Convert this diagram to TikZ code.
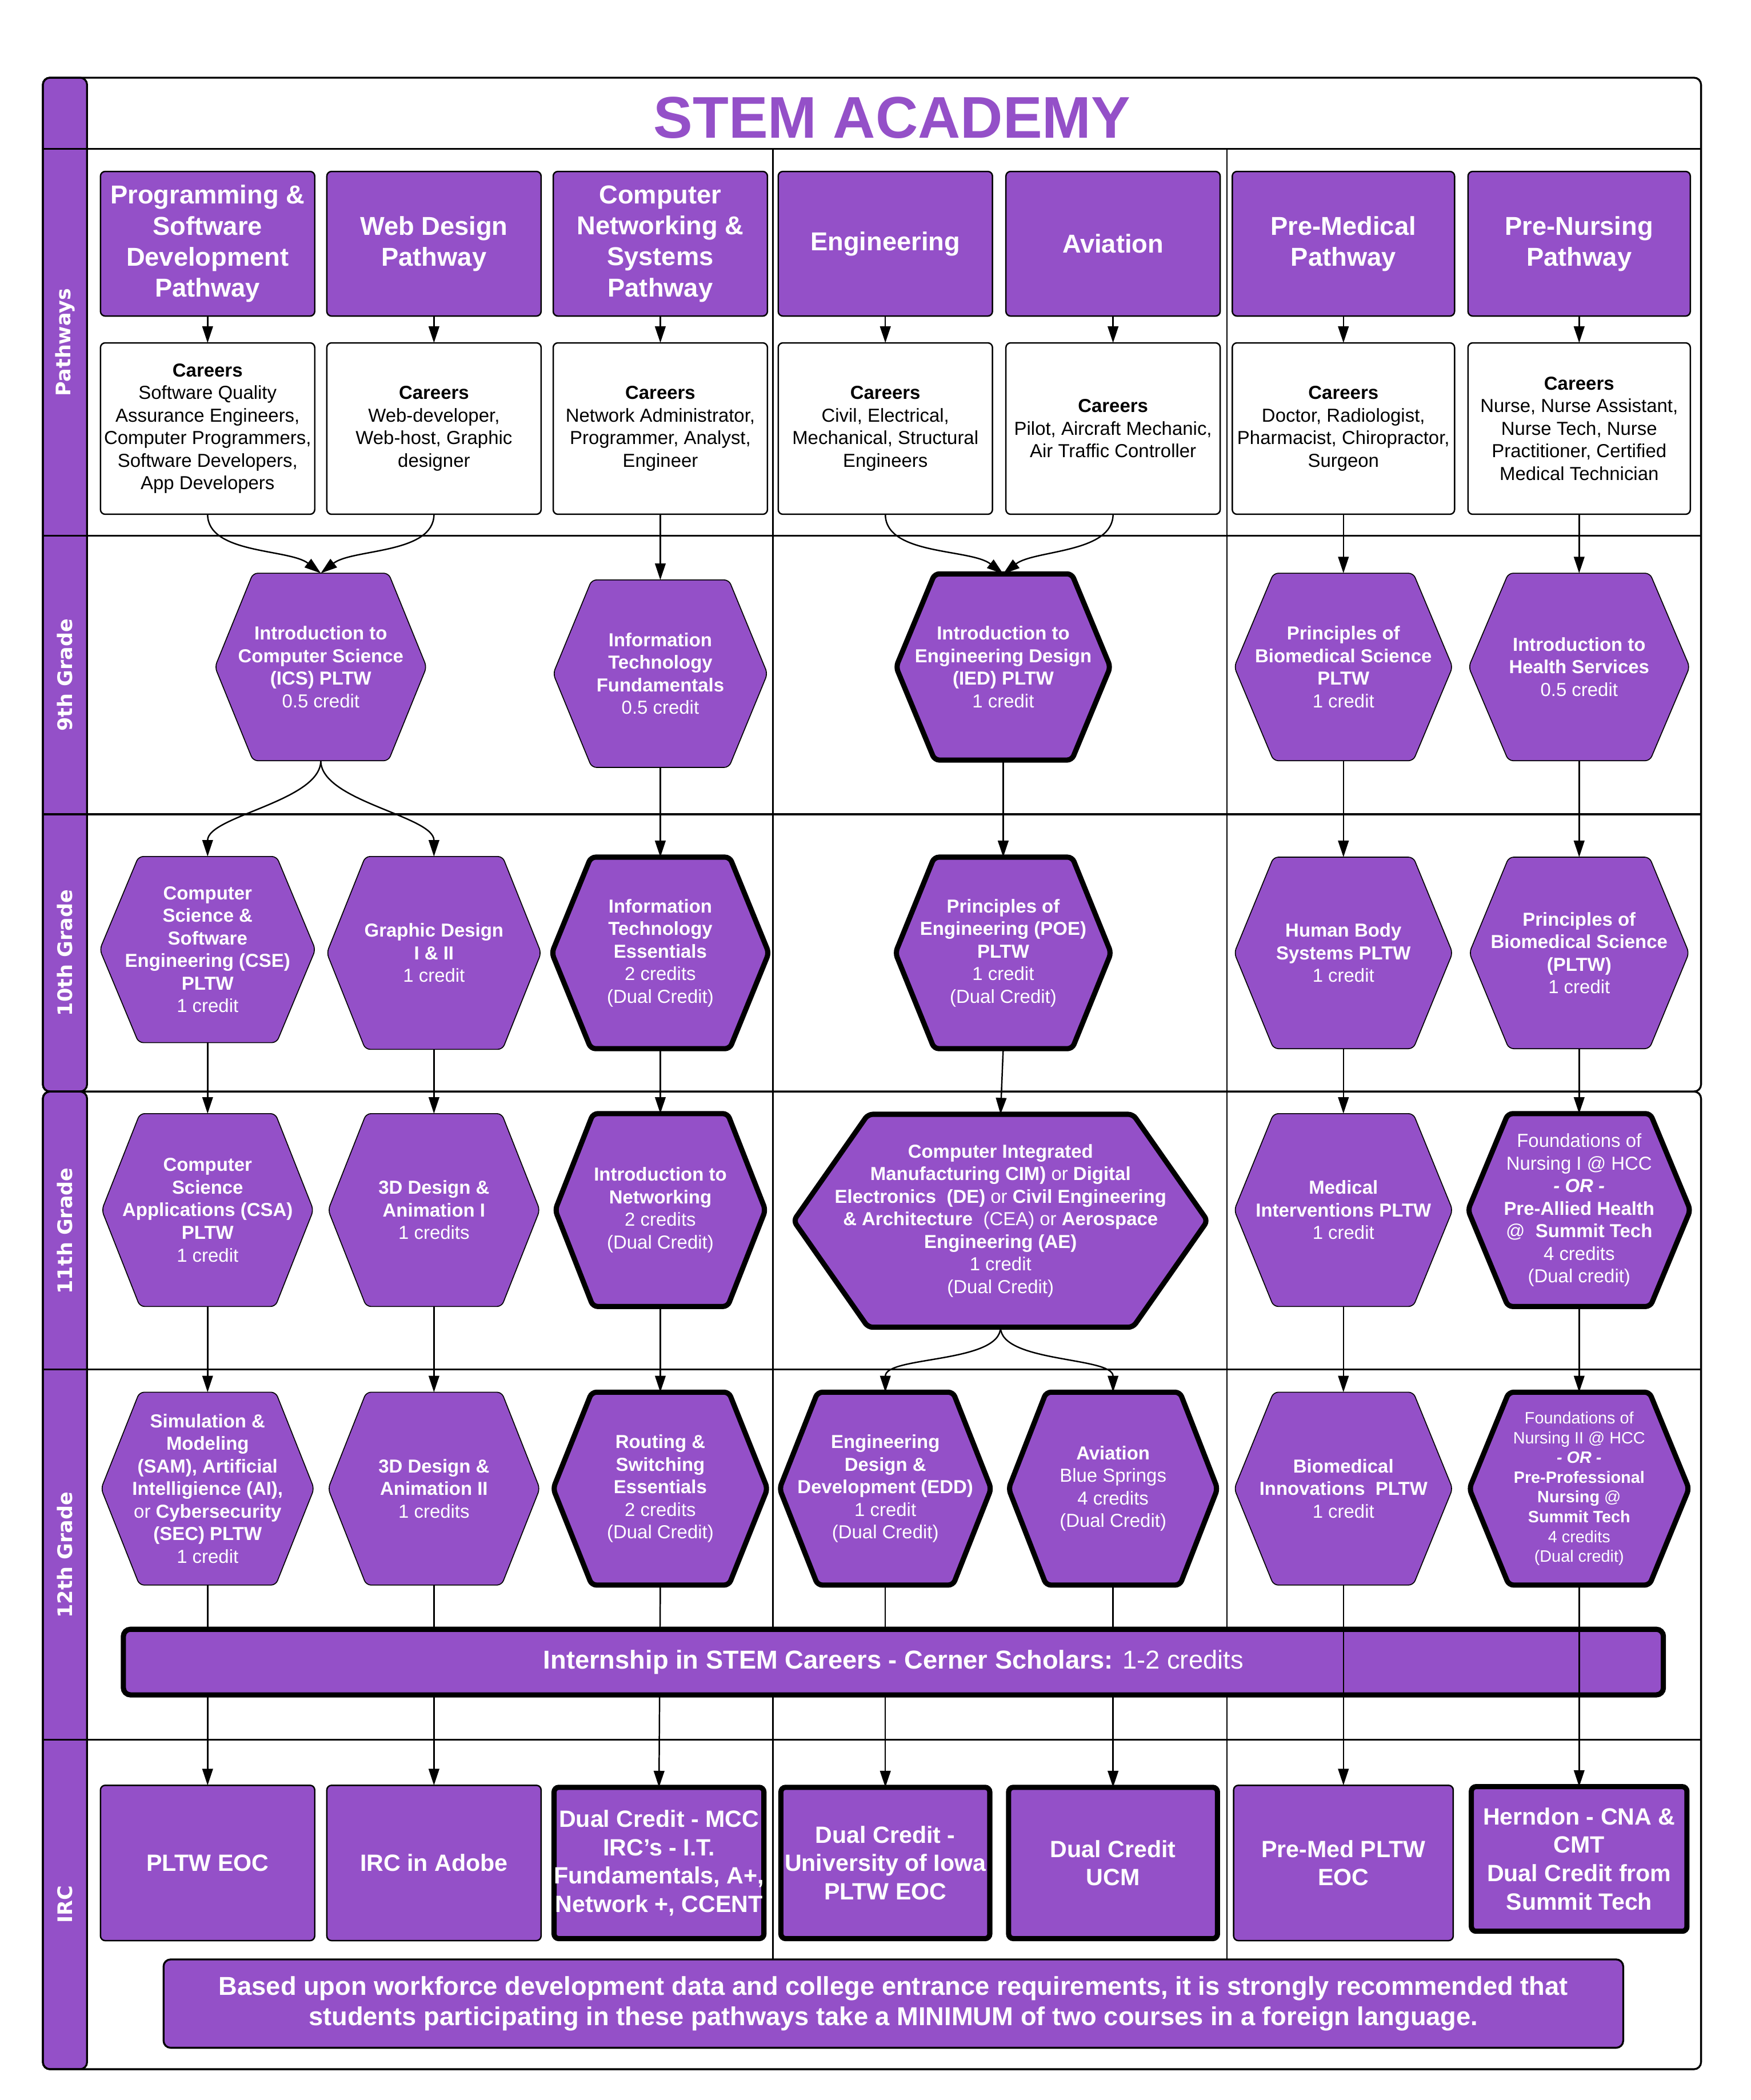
\documentclass[tikz,border=0pt]{standalone}
\usepackage{fontspec}
\setmainfont{Liberation Sans}
\newfontfamily\lanefont{DejaVu Sans}
\usetikzlibrary{arrows.meta}
\definecolor{stem}{RGB}{148,80,200}
\def\hexnode[#1](#2,#3)(#4:#5)#6#7{\draw[#1] ({#2-#4/2},#3) -- ({#2-0.32*#4},{#3+#5/2}) -- ({#2+0.32*#4},{#3+#5/2}) -- ({#2+#4/2},#3) -- ({#2+0.32*#4},{#3-#5/2}) -- ({#2-0.32*#4},{#3-#5/2}) -- cycle;
	\node[hextext, minimum width=#4*0.02cm, minimum height=#5*0.02cm] (#6) at (#2,#3) {#7};}
\tikzset{
	grid/.style={line width=0.8pt},
	pathbox/.style={draw=black, line width=0.6pt, rounded corners=2pt, fill=stem, text=white, align=center, minimum width=3.2cm, minimum height=2.16cm, inner sep=0pt, outer sep=0pt, font=\fontsize{11}{13.2}\selectfont\bfseries},
	careerbox/.style={draw=black, line width=0.6pt, rounded corners=2pt, fill=white, align=center, minimum width=3.2cm, minimum height=2.56cm, inner sep=0pt, outer sep=0pt, font=\fontsize{8}{9.6}\selectfont},
	hexfill/.style={fill=stem, rounded corners=2pt},
	hexthick/.style={fill=stem, draw=black, line width=2.2pt, rounded corners=2pt},
	hextext/.style={text=white, align=center, inner sep=0pt, outer sep=0pt, font=\fontsize{8}{9.6}\selectfont},
	ircbox/.style={draw=black, line width=0.6pt, rounded corners=2pt, fill=stem, text=white, align=center, minimum width=3.2cm, minimum height=2.32cm, inner sep=0pt, outer sep=0pt, font=\fontsize{10}{12.1}\selectfont\bfseries},
	ircthick/.style={ircbox, line width=2.2pt, minimum width=3.12cm, minimum height=2.26cm},
	lane/.style={rotate=90, text=white, font=\lanefont\fontsize{8.5}{10}\selectfont\bfseries},
	flow/.style={line width=0.6pt, -{Triangle[length=7pt,width=4.5pt]}}
}

\begin{document}
\begin{tikzpicture}[x=0.02cm, y=0.02cm]
		%%%%% START %%%%%
		\useasboundingbox (0,0) rectangle (1307,-1568);
		
		\draw[grid, fill=stem, rounded corners=3pt] (32,-58) rectangle (65,-815);
		\draw[grid, fill=stem, rounded corners=3pt] (32,-815) rectangle (65,-1545);
		\draw[grid, rounded corners=3pt] (32,-58) rectangle (1270,-815);
		\draw[grid, rounded corners=3pt] (32,-815) rectangle (1270,-1545);
		\foreach \y in {-111,-400,-608,-1022.5,-1299}
			\draw[grid] (32,\y) -- (1270,\y);
		\foreach \x in {577,916}
			\draw[line width=0.6pt] (\x,-111) -- (\x,-1463);
		
		\node[text=stem, font=\fontsize{25}{30}\selectfont\bfseries] (title) at (666,-88) {STEM ACADEMY};
		
		\node[lane] (lpath) at (48.5,-255.5) {Pathways};
		\node[lane] (lnine) at (48.5,-504) {9th Grade};
		\node[lane] (lten) at (48.5,-711.5) {10th Grade};
		\node[lane] (leleven) at (48.5,-919) {11th Grade};
		\node[lane] (ltwelve) at (48.5,-1161) {12th Grade};
		\node[lane] (lirc) at (48.5,-1422) {IRC};
		
		% pathways
		\node[pathbox] (pw1) at (155,-182) {Programming \&\\Software\\Development\\Pathway};
		\node[pathbox] (pw2) at (324,-182) {Web Design\\Pathway};
		\node[pathbox] (pw3) at (493,-182) {Computer\\Networking \&\\Systems\\Pathway};
		\node[pathbox] (pw4) at (661,-182) {Engineering};
		\node[pathbox] (pw5) at (831,-182) {Aviation};
		\node[pathbox, minimum width=3.32cm] (pw6) at (1003,-182) {Pre-Medical\\Pathway};
		\node[pathbox, minimum width=3.32cm] (pw7) at (1179,-182) {Pre-Nursing\\Pathway};
		
		\node[careerbox] (car1) at (155,-320) {\textbf{Careers}\\Software Quality\\Assurance Engineers,\\Computer Programmers,\\Software Developers,\\App Developers};
		\node[careerbox] (car2) at (324,-320) {\textbf{Careers}\\Web-developer,\\Web-host, Graphic\\designer};
		\node[careerbox] (car3) at (493,-320) {\textbf{Careers}\\Network Administrator,\\Programmer, Analyst,\\Engineer};
		\node[careerbox] (car4) at (661,-320) {\textbf{Careers}\\Civil, Electrical,\\Mechanical, Structural\\Engineers};
		\node[careerbox] (car5) at (831,-320) {\textbf{Careers}\\Pilot, Aircraft Mechanic,\\Air Traffic Controller};
		\node[careerbox, minimum width=3.32cm] (car6) at (1003,-320) {\textbf{Careers}\\Doctor, Radiologist,\\Pharmacist, Chiropractor,\\Surgeon};
		\node[careerbox, minimum width=3.32cm] (car7) at (1179,-320) {\textbf{Careers}\\Nurse, Nurse Assistant,\\Nurse Tech, Nurse\\Practitioner, Certified\\Medical Technician};
		
		% 9th grade
		\hexnode[hexfill](239.5,-498)(158:140){ics}{\textbf{Introduction to}\\\textbf{Computer Science}\\\textbf{(ICS) PLTW}\\0.5 credit}
		\hexnode[hexfill](493,-503)(160:140){itf}{\textbf{Information}\\\textbf{Technology}\\\textbf{Fundamentals}\\0.5 credit}
		\hexnode[hexthick](749,-498)(160:139){ied}{\textbf{Introduction to}\\\textbf{Engineering Design}\\\textbf{(IED) PLTW}\\1 credit}
		\hexnode[hexfill](1003,-498)(163:140){pbsa}{\textbf{Principles of}\\\textbf{Biomedical Science}\\\textbf{PLTW}\\1 credit}
		\hexnode[hexfill](1179,-498)(165:140){ihs}{\textbf{Introduction to}\\\textbf{Health Services}\\0.5 credit}
		
		% 10th grade
		\hexnode[hexfill](155,-709)(161:139){cse}{\textbf{Computer}\\\textbf{Science \&}\\\textbf{Software}\\\textbf{Engineering (CSE)}\\\textbf{PLTW}\\1 credit}
		\hexnode[hexfill](324,-711.5)(160:144){gd}{\textbf{Graphic Design}\\\textbf{I \& II}\\1 credit}
		\hexnode[hexthick](493,-711.5)(162:143){ite}{\textbf{Information}\\\textbf{Technology}\\\textbf{Essentials}\\2 credits\\(Dual Credit)}
		\hexnode[hexthick](749,-711.5)(161:143){poe}{\textbf{Principles of}\\\textbf{Engineering (POE)}\\\textbf{PLTW}\\1 credit\\(Dual Credit)}
		\hexnode[hexfill](1003,-711.5)(163:143){hbs}{\textbf{Human Body}\\\textbf{Systems PLTW}\\1 credit}
		\hexnode[hexfill](1179,-711.5)(164:143){pbsb}{\textbf{Principles of}\\\textbf{Biomedical Science}\\\textbf{(PLTW)}\\1 credit}
		
		% 11th grade
		\hexnode[hexfill](155,-903.5)(158:144){csa}{\textbf{Computer}\\\textbf{Science}\\\textbf{Applications (CSA)}\\\textbf{PLTW}\\1 credit}
		\hexnode[hexfill](324,-903.5)(158:144){dda}{\textbf{3D Design \&}\\\textbf{Animation I}\\1 credits}
		\hexnode[hexthick](493,-903.5)(157:144){net}{\textbf{Introduction to}\\\textbf{Networking}\\2 credits\\(Dual Credit)}
		\hexnode[hexthick](747,-911.5)(309:159){cim}{\textbf{Computer Integrated}\\\textbf{Manufacturing CIM)} or \textbf{Digital}\\\textbf{Electronics \ (DE)} or \textbf{Civil Engineering}\\\textbf{\& Architecture} \ (CEA) or \textbf{Aerospace}\\\textbf{Engineering (AE)}\\1 credit\\(Dual Credit)}
		\hexnode[hexfill](1003,-903.5)(163:144){mi}{\textbf{Medical}\\\textbf{Interventions PLTW}\\1 credit}
		\hexnode[hexthick](1179,-903.5)(166:144){fna}{Foundations of\\Nursing I @ HCC\\\textbf{\textit{- OR -}}\\\textbf{Pre-Allied Health}\\@ \ \textbf{Summit Tech}\\4 credits\\(Dual credit)}
		
		% 12th grade
		\hexnode[hexfill](155,-1111.5)(159:144){sam}{\textbf{Simulation \&}\\\textbf{Modeling}\\\textbf{(SAM), Artificial}\\\textbf{Intelligience (AI),}\\or \textbf{Cybersecurity}\\\textbf{(SEC) PLTW}\\1 credit}
		\hexnode[hexfill](324,-1111.5)(158:144){ddb}{\textbf{3D Design \&}\\\textbf{Animation II}\\1 credits}
		\hexnode[hexthick](493,-1111.5)(160:144){rse}{\textbf{Routing \&}\\\textbf{Switching}\\\textbf{Essentials}\\2 credits\\(Dual Credit)}
		\hexnode[hexthick](661,-1111.5)(158:144){edd}{\textbf{Engineering}\\\textbf{Design \&}\\\textbf{Development (EDD)}\\1 credit\\(Dual Credit)}
		\hexnode[hexthick](831,-1111.5)(156:144){avb}{\textbf{Aviation}\\Blue Springs\\4 credits\\(Dual Credit)}
		\hexnode[hexfill](1003,-1111.5)(163:144){bi}{\textbf{Biomedical}\\\textbf{Innovations \ PLTW}\\1 credit}
		\begin{scope}[hextext/.append style={font=\fontsize{7}{8.4}\selectfont}]
			\hexnode[hexthick](1179,-1111.5)(164:144){fnb}{Foundations of\\Nursing II @ HCC\\\textbf{\textit{- OR -}}\\\textbf{Pre-Professional}\\\textbf{Nursing} @\\\textbf{Summit Tech}\\4 credits\\(Dual credit)}
		\end{scope}
		
		% IRC
		\node[ircbox] (irc1) at (155,-1391) {PLTW EOC};
		\node[ircbox] (irc2) at (324,-1391) {IRC in Adobe};
		\node[ircthick] (irc3) at (492,-1391) {Dual Credit - MCC\\IRC's - I.T.\\Fundamentals, A+,\\Network +, CCENT};
		\node[ircthick] (irc4) at (661,-1391) {Dual Credit -\\University of Iowa\\PLTW EOC};
		\node[ircthick] (irc5) at (831,-1391) {Dual Credit\\UCM};
		\node[ircbox, minimum width=3.28cm] (irc6) at (1003,-1391) {Pre-Med PLTW\\EOC};
		\node[ircthick, minimum width=3.22cm, minimum height=2.16cm] (irc7) at (1179,-1388) {Herndon - CNA \&\\CMT\\Dual Credit from\\Summit Tech};
		
		% connectors
		\foreach \a/\b in {pw1/car1,pw2/car2,pw3/car3,pw4/car4,pw5/car5,pw6/car6,pw7/car7}
			\draw[flow] (\a.south) -- (\b.north);
		\draw[flow] (car1.south) to[out=-90,in=142,looseness=0.8] (ics.north);
		\draw[flow] (car2.south) to[out=-90,in=38,looseness=0.8] (ics.north);
		\draw[flow] (car4.south) to[out=-90,in=142,looseness=0.8] (ied.north);
		\draw[flow] (car5.south) to[out=-90,in=38,looseness=0.8] (ied.north);
		\draw[flow] (ics.south) to[out=-90,in=90,looseness=0.7] (cse.north);
		\draw[flow] (ics.south) to[out=-90,in=90,looseness=0.7] (gd.north);
		\draw[flow] (cim.south) to[out=-90,in=90,looseness=0.7] (edd.north);
		\draw[flow] (cim.south) to[out=-90,in=90,looseness=0.7] (avb.north);
		\foreach \a/\b in {car3/itf,car6/pbsa,car7/ihs,itf/ite,ied/poe,pbsa/hbs,ihs/pbsb,cse/csa,gd/dda,ite/net,poe/cim,hbs/mi,pbsb/fna,csa/sam,dda/ddb,net/rse,mi/bi,fna/fnb}
			\draw[flow] (\a.south) -- (\b.north);
		\foreach \a/\b in {sam/irc1,ddb/irc2,rse/irc3,edd/irc4,avb/irc5}
			\draw[flow] (\a.south) -- (\b.north);
		
		\node[draw=black, line width=2.2pt, rounded corners=3pt, fill=stem, text=white, minimum width=23cm, minimum height=0.98cm, font=\fontsize{11}{13.2}\selectfont] (intern) at (667,-1241) {\textbf{Internship in STEM Careers - Cerner Scholars:} 1-2 credits};
		
		\foreach \a/\b in {bi/irc6,fnb/irc7}
			\draw[flow] (\a.south) -- (\b.north);
		
		\node[draw=black, line width=0.8pt, rounded corners=3pt, fill=stem, text=white, align=center, minimum width=21.8cm, minimum height=1.32cm, font=\fontsize{11}{13}\selectfont\bfseries] (note) at (667,-1496) {Based upon workforce development data and college entrance requirements, it is strongly recommended that\\students participating in these pathways take a MINIMUM of two courses in a foreign language.};
		
		%%%%% END %%%%%
	\end{tikzpicture}
\end{document}
